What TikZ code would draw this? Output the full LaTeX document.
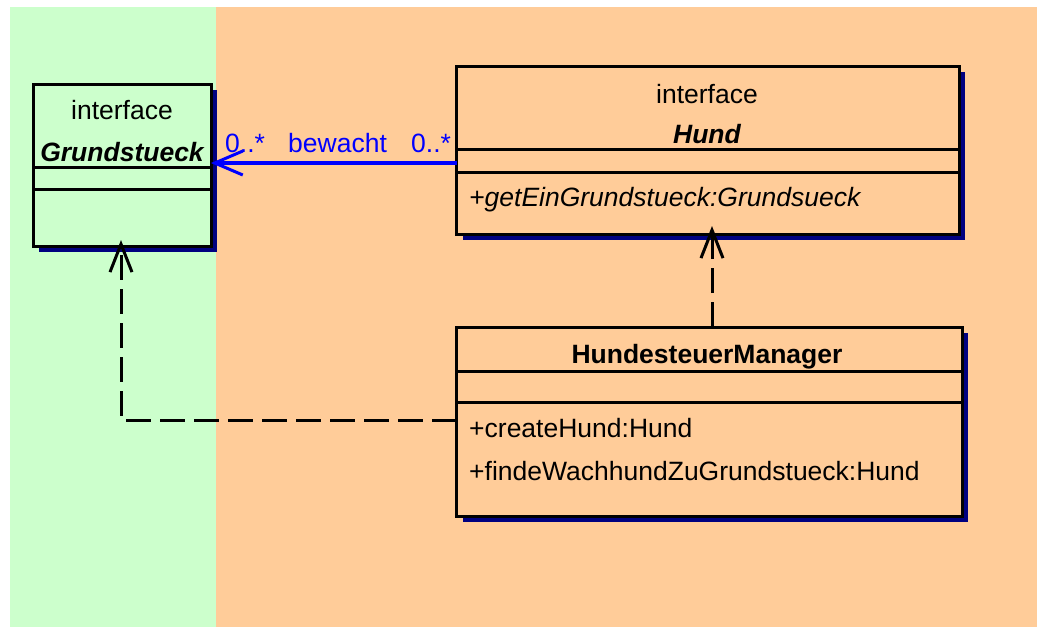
\documentclass[tikz,border=0pt]{standalone}
\usepackage{fontspec}
\setmainfont{Liberation Sans}
\usetikzlibrary{arrows.meta,shadows}
\definecolor{greenbg}{HTML}{CCFFCC}
\definecolor{orangebg}{HTML}{FFCC99}
\definecolor{navyc}{HTML}{000080}
\definecolor{assocblue}{HTML}{0000FF}
\begin{document}
\begin{tikzpicture}[x=1pt,y=-1pt,
  classbox/.style={draw=black, line width=3pt, inner sep=0pt, outer sep=0pt,
    drop shadow={shadow xshift=6pt, shadow yshift=-6pt, fill=navyc, opacity=1}},
  divider/.style={draw=black, line width=3pt},
  txt/.style={font=\fontsize{26.5}{30}\selectfont, inner sep=0pt, text=black},
  lbl/.style={font=\fontsize{26.5}{30}\selectfont, inner sep=0pt, text=assocblue, anchor=base west},
  assoc/.style={draw=assocblue, line width=4pt, -{Straight Barb[length=28pt, width=24pt, line width=3pt]}},
  real/.style={draw=black, line width=3pt, dash pattern=on 25pt off 9pt,
    -{Straight Barb[length=28pt, width=22pt, line width=3pt]}}
]
\useasboundingbox (0,0) rectangle (1037,627);
% backgrounds
\fill[greenbg] (10,7) rectangle (216,627);
\fill[orangebg] (216,7) rectangle (1037,627);

% Grundstueck
\node[classbox, fill=greenbg, minimum width=178pt, minimum height=162pt] (G) at (122,165) {};
\draw[divider] (G.west |- 0,167) -- (G.east |- 0,167);
\draw[divider] (G.west |- 0,189) -- (G.east |- 0,189);
\node[txt, anchor=base] (Gst) at (122,119) {interface};
\node[txt, anchor=base, font=\fontsize{26.5}{30}\selectfont\bfseries\itshape] (Gname) at (122,161) {Grundstueck};

% Hund
\node[classbox, fill=orangebg, minimum width=502.5pt, minimum height=168pt] (H) at (707.75,150) {};
\draw[divider] (H.west |- 0,149) -- (H.east |- 0,149);
\draw[divider] (H.west |- 0,172) -- (H.east |- 0,172);
\node[txt, anchor=base] (Hst) at (707,103) {interface};
\node[txt, anchor=base, font=\fontsize{26.5}{30}\selectfont\bfseries\itshape] (Hname) at (707,143) {Hund};
\node[txt, anchor=base west, font=\fontsize{26.5}{30}\selectfont\itshape] (Hop) at (469,206) {+getEinGrundstueck:Grundsueck};

% HundesteuerManager
\node[classbox, fill=orangebg, minimum width=505.5pt, minimum height=189pt] (HM) at (709.25,421.5) {};
\draw[divider] (HM.west |- 0,371) -- (HM.east |- 0,371);
\draw[divider] (HM.west |- 0,402) -- (HM.east |- 0,402);
\node[txt, anchor=base, font=\fontsize{26.5}{30}\selectfont\bfseries] (HMname) at (707,363) {HundesteuerManager};
\node[txt, anchor=base west] (HMop1) at (469,437) {+createHund:Hund};
\node[txt, anchor=base west] (HMop2) at (469,480) {+findeWachhundZuGrundstueck:Hund};

% association
\draw[assoc] (H.west |- 0,163) -- (G.east |- 0,163);
\node[lbl] (m1) at (225,152) {0..*};
\node[lbl] (an) at (288,152) {bewacht};
\node[lbl] (m2) at (411,152) {0..*};

% realizations
\draw[real, shorten >=-8pt] (HM.north -| 712,0) -- (H.south -| 712,0);
\draw[real, shorten >=-6pt] (HM.west |- 0,420) -| ([xshift=-1pt]G.south);
\end{tikzpicture}
\end{document}
